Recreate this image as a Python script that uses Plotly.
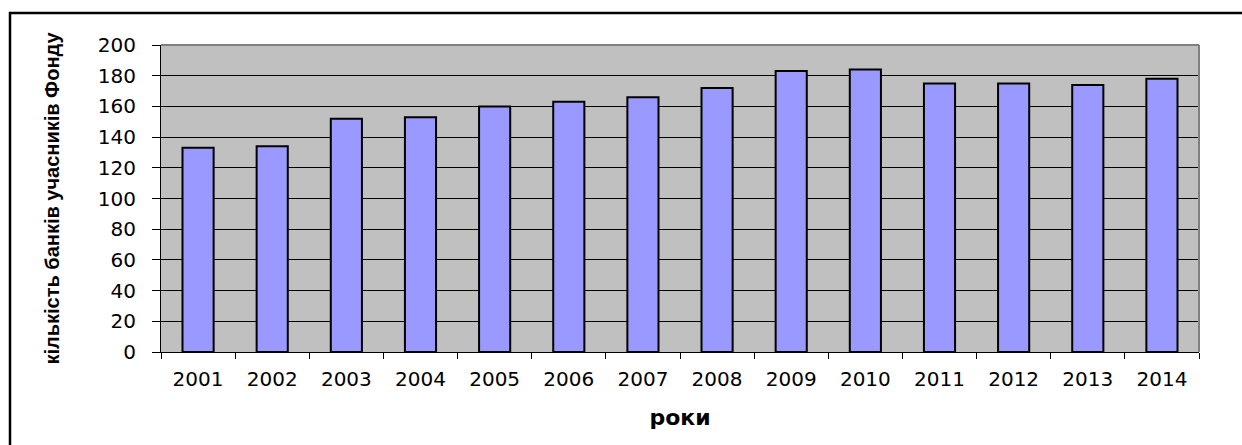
import plotly.graph_objects as go

years = ["2001", "2002", "2003", "2004", "2005", "2006", "2007",
         "2008", "2009", "2010", "2011", "2012", "2013", "2014"]
banks = [133, 134, 152, 153, 160, 163, 166, 172, 183, 184, 175, 175, 174, 178]
y_ticks = [0, 20, 40, 60, 80, 100, 120, 140, 160, 180, 200]
y_title = "кількість банків учасників Фонду"
x_title = "роки"

W, H = 1242, 445
L, R, T, B = 161, 43, 45, 93
pw, ph = W - L - R, H - T - B

def px_x(p):
    return (p - L) / pw

def px_y(p):
    return (H - B - p) / ph

fig = go.Figure(go.Bar(
    x=years, y=banks, width=0.42,
    marker=dict(color="#9999FF", line=dict(color="black", width=2)),
))

fig.update_layout(
    width=W, height=H,
    margin=dict(l=L, r=R, t=T, b=B, pad=0),
    paper_bgcolor="white", plot_bgcolor="#C0C0C0",
    showlegend=False,
    font=dict(family="DejaVu Sans", color="black"),
    xaxis=dict(
        type="category", tickson="boundaries", ticks="outside", ticklen=6,
        tickcolor="black", tickwidth=1, showline=True, linecolor="black",
        linewidth=1, showgrid=False, tickfont=dict(size=20, family="DejaVu Sans"),
        ticklabelstandoff=9,
        title=dict(text=x_title, standoff=19,
                   font=dict(size=22, family="DejaVu Sans", weight="bold")),
    ),
    yaxis=dict(
        range=[0, 200], tickvals=y_ticks, ticks="outside", ticklen=8,
        tickcolor="black", tickwidth=1, showline=True, linecolor="black",
        linewidth=1, showgrid=True, gridcolor="black", gridwidth=1,
        zeroline=False, tickfont=dict(size=20, family="DejaVu Sans"),
        ticklabelstandoff=12,
        title=dict(text=y_title, standoff=32,
                   font=dict(size=20, family="Liberation Sans", weight="bold")),
    ),
    shapes=[
        # gray plot-area frame (top & right)
        dict(type="line", xref="paper", yref="paper", x0=0, x1=1, y0=1, y1=1,
             line=dict(color="#808080", width=2), layer="above"),
        dict(type="line", xref="paper", yref="paper", x0=1, x1=1, y0=0, y1=1,
             line=dict(color="#808080", width=2), layer="above"),
        # outer chart border: top and left edges (others lie outside the view)
        dict(type="line", xref="paper", yref="paper",
             x0=px_x(9), x1=px_x(1250), y0=px_y(13), y1=px_y(13),
             line=dict(color="black", width=2.5), layer="above"),
        dict(type="line", xref="paper", yref="paper",
             x0=px_x(10), x1=px_x(10), y0=px_y(12), y1=px_y(460),
             line=dict(color="black", width=2.5), layer="above"),
    ],
)

fig.write_html("out.html")
